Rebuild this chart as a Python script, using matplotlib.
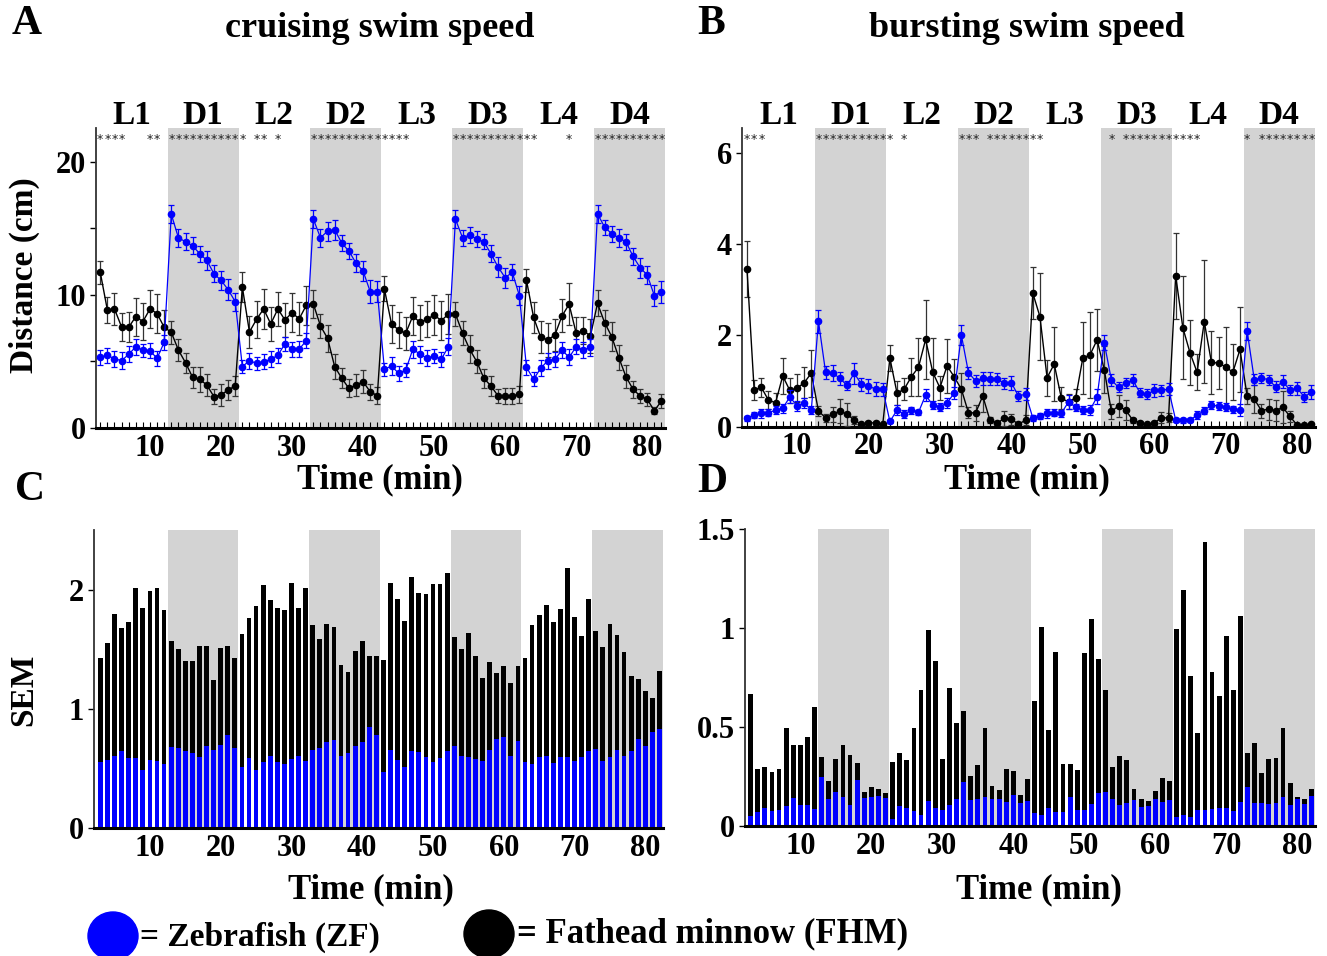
import matplotlib
matplotlib.use('Agg')
import matplotlib.pyplot as plt
import matplotlib.transforms as mtransforms
from matplotlib.patches import Ellipse
import numpy as np

plt.rcParams['font.family'] = 'serif'
plt.rcParams['font.serif'] = ['Liberation Serif', 'DejaVu Serif']
plt.rcParams['font.weight'] = 'bold'

# ---------------- data ----------------
minutes = np.arange(3, 83)  # one sample per minute
phase_labels = ['L1', 'D1', 'L2', 'D2', 'L3', 'D3', 'L4', 'D4']
dark_phases = [(12.5, 22.5), (32.5, 42.5), (52.5, 62.5), (72.5, 82.5)]

# Panel A: cruising swim speed (cm)
zf_cruise = [5.3, 5.47, 5.2, 5.06, 5.54, 6.1, 5.86, 5.8, 5.24, 6.44,
             16.07, 14.3, 14.0, 13.7, 13.1, 12.6, 11.6, 11.1, 10.4, 9.5,
             4.61, 5.06, 4.86, 4.99, 5.16, 5.47, 6.32, 5.92, 5.92, 6.57,
             15.7, 14.3, 14.8, 14.9, 13.9, 13.3, 12.4, 11.8, 10.25, 10.25,
             4.41, 4.66, 4.11, 4.36, 5.92, 5.56, 5.24, 5.41, 5.16, 6.11,
             15.7, 14.3, 14.5, 14.2, 14.0, 13.1, 12.1, 11.3, 11.7, 9.95,
             4.56, 3.66, 4.49, 5.06, 5.16, 5.86, 5.31, 6.11, 5.86, 6.07,
             16.1, 15.1, 14.6, 14.3, 14.0, 12.9, 12.05, 11.5, 9.95, 10.25]
fhm_cruise = [11.7, 8.87, 8.95, 7.6, 7.57, 8.37, 8.0, 8.95, 8.6, 7.57,
              7.19, 5.86, 4.91, 3.81, 3.66, 3.23, 2.36, 2.48, 2.86, 3.16,
              10.6, 7.22, 8.17, 8.95, 7.82, 8.95, 8.12, 8.67, 8.2, 9.22,
              9.32, 7.67, 6.74, 4.61, 3.74, 2.98, 3.23, 3.48, 2.73, 2.43,
              10.45, 7.82, 7.37, 7.12, 8.42, 7.94, 8.17, 8.5, 8.07, 8.55,
              8.57, 7.12, 5.92, 4.99, 3.74, 3.16, 2.41, 2.41, 2.41, 2.53,
              11.1, 8.32, 6.82, 6.62, 6.99, 8.42, 9.3, 7.12, 7.32, 6.92,
              9.37, 7.92, 6.87, 5.29, 3.86, 2.91, 2.41, 2.15, 1.3, 2.03]

# Panel C: SEM of cruising speed (ZF bar, and stacked top ZF+FHM)
zf_sem_cruise = [0.553, 0.575, 0.61, 0.65, 0.59, 0.59, 0.49, 0.57, 0.567, 0.54,
                 0.684, 0.67, 0.648, 0.634, 0.60, 0.69, 0.66, 0.695, 0.78, 0.67,
                 0.51, 0.59, 0.486, 0.556, 0.606, 0.556, 0.54, 0.58, 0.61, 0.56,
                 0.656, 0.675, 0.72, 0.74, 0.61, 0.63, 0.69, 0.72, 0.85, 0.78,
                 0.47, 0.656, 0.57, 0.516, 0.648, 0.64, 0.595, 0.556, 0.587, 0.645,
                 0.687, 0.606, 0.595, 0.58, 0.56, 0.656, 0.746, 0.763, 0.61, 0.734,
                 0.553, 0.536, 0.595, 0.61, 0.545, 0.60, 0.60, 0.56, 0.595, 0.648,
                 0.667, 0.56, 0.60, 0.66, 0.61, 0.65, 0.75, 0.69, 0.81, 0.83]
sem_top_cruise = [1.425, 1.55, 1.80, 1.68, 1.73, 2.01, 1.85, 1.99, 2.01, 1.83,
                  1.57, 1.50, 1.40, 1.40, 1.53, 1.53, 1.24, 1.51, 1.53, 1.43,
                  1.63, 1.76, 1.86, 2.04, 1.91, 1.85, 1.83, 2.06, 1.85, 2.01,
                  1.70, 1.59, 1.71, 1.69, 1.37, 1.31, 1.49, 1.57, 1.44, 1.44,
                  1.41, 2.06, 1.92, 1.74, 2.11, 1.97, 1.96, 2.05, 2.05, 2.14,
                  1.60, 1.50, 1.64, 1.44, 1.26, 1.39, 1.30, 1.36, 1.22, 1.36,
                  1.43, 1.70, 1.79, 1.87, 1.73, 1.84, 2.18, 1.77, 1.61, 1.92,
                  1.65, 1.52, 1.71, 1.62, 1.48, 1.28, 1.25, 1.15, 1.09, 1.32]

# Panel B: bursting swim speed (cm)
zf_burst = [0.18, 0.25, 0.29, 0.30, 0.36, 0.40, 0.65, 0.45, 0.52, 0.36,
            2.31, 1.19, 1.17, 1.06, 0.90, 1.17, 0.93, 0.89, 0.82, 0.82,
            0.11, 0.36, 0.27, 0.36, 0.31, 0.69, 0.47, 0.43, 0.52, 0.73,
            2.01, 1.18, 1.0, 1.06, 1.05, 1.04, 0.95, 0.96, 0.67, 0.71,
            0.19, 0.23, 0.29, 0.30, 0.29, 0.54, 0.42, 0.36, 0.36, 0.65,
            1.84, 1.02, 0.86, 0.95, 1.02, 0.74, 0.71, 0.79, 0.79, 0.82,
            0.14, 0.14, 0.14, 0.25, 0.35, 0.47, 0.45, 0.43, 0.38, 0.36,
            2.10, 1.03, 1.06, 1.03, 0.87, 0.98, 0.80, 0.84, 0.65, 0.75]
fhm_burst = [3.45, 0.80, 0.86, 0.58, 0.52, 1.11, 0.79, 0.84, 0.96, 1.17,
             0.34, 0.19, 0.27, 0.34, 0.27, 0.14, 0.05, 0.08, 0.08, 0.05,
             1.50, 0.73, 0.82, 1.09, 1.30, 1.91, 1.19, 0.85, 1.33, 1.09,
             0.82, 0.30, 0.30, 0.67, 0.14, 0.07, 0.18, 0.16, 0.05, 0.14,
             2.93, 2.41, 1.07, 1.37, 0.62, 0.54, 0.63, 1.50, 1.57, 1.90,
             1.25, 0.33, 0.45, 0.36, 0.14, 0.08, 0.05, 0.08, 0.19, 0.19,
             3.31, 2.17, 1.62, 1.19, 2.30, 1.41, 1.39, 1.31, 1.19, 1.69,
             0.67, 0.60, 0.35, 0.38, 0.35, 0.42, 0.22, 0.03, 0.03, 0.05]

# Panel D: SEM of bursting speed (ZF bar, and stacked top ZF+FHM)
zf_sem_burst = [0.052, 0.07, 0.094, 0.077, 0.082, 0.104, 0.141, 0.108, 0.108, 0.087,
                0.25, 0.138, 0.173, 0.146, 0.106, 0.234, 0.145, 0.15, 0.153, 0.145,
                0.037, 0.104, 0.09, 0.077, 0.057, 0.13, 0.09, 0.082, 0.108, 0.136,
                0.222, 0.133, 0.138, 0.146, 0.138, 0.136, 0.124, 0.158, 0.119, 0.127,
                0.066, 0.057, 0.094, 0.074, 0.074, 0.15, 0.082, 0.082, 0.113, 0.167,
                0.172, 0.136, 0.108, 0.116, 0.133, 0.099, 0.104, 0.136, 0.124, 0.133,
                0.049, 0.057, 0.045, 0.082, 0.082, 0.087, 0.094, 0.094, 0.077, 0.124,
                0.197, 0.12, 0.116, 0.111, 0.12, 0.146, 0.108, 0.138, 0.111, 0.153]
sem_top_burst = [0.668, 0.288, 0.30, 0.274, 0.29, 0.495, 0.41, 0.41, 0.45, 0.60,
                 0.35, 0.23, 0.34, 0.41, 0.36, 0.32, 0.175, 0.20, 0.19, 0.17,
                 0.323, 0.369, 0.335, 0.495, 0.688, 0.99, 0.833, 0.34, 0.70, 0.52,
                 0.584, 0.256, 0.31, 0.498, 0.205, 0.183, 0.29, 0.279, 0.157, 0.237,
                 0.633, 1.005, 0.486, 0.877, 0.313, 0.313, 0.284, 0.875, 1.047, 0.846,
                 0.69, 0.30, 0.355, 0.333, 0.187, 0.138, 0.13, 0.178, 0.245, 0.23,
                 0.995, 1.19, 0.76, 0.473, 1.434, 0.776, 0.658, 0.961, 0.69, 1.062,
                 0.372, 0.42, 0.27, 0.34, 0.343, 0.495, 0.22, 0.146, 0.14, 0.19]

# significance markers (minute of each asterisk)
stars_cruise = [3, 4, 5, 6, 10, 11, 13, 14, 15, 16, 17, 18, 19, 20, 21, 22, 23,
                25, 26, 28, 33, 34, 35, 36, 37, 38, 39, 40, 41, 42, 43, 44, 45, 46,
                53, 54, 55, 56, 57, 58, 59, 60, 61, 62, 63, 64, 69,
                73, 74, 75, 76, 77, 78, 79, 80, 81, 82]
stars_burst = [3, 4, 5, 13, 14, 15, 16, 17, 18, 19, 20, 21, 22, 23, 25,
               33, 34, 35, 37, 38, 39, 40, 41, 42, 43, 44,
               54, 56, 57, 58, 59, 60, 61, 62, 63, 64, 65, 66,
               73, 75, 76, 77, 78, 79, 80, 81, 82]

# ---------------- figure ----------------
W, H = 1327, 956
fig = plt.figure(figsize=(W / 100, H / 100), dpi=100)
BLUE = '#0000ff'
GRAY = '#d3d3d3'
FS = 22


def make_ax(l, r, t, b):
    return fig.add_axes([l / W, 1 - b / H, (r - l) / W, (b - t) / H])


def style(ax, xlim, ylim, yticks, yticklabels, minor_y=None):
    ax.set_xlim(*xlim)
    ax.set_ylim(*ylim)
    for s in ['top', 'right']:
        ax.spines[s].set_visible(False)
    ax.spines['bottom'].set_linewidth(2.2)
    ax.spines['left'].set_linewidth(1.3)
    ax.spines['left'].set_color('#333333')
    for a, b in dark_phases:
        ax.axvspan(a, b, color=GRAY, lw=0, zorder=0)
    ax.set_xticks(range(10, 90, 10))
    ax.set_xticks(minutes, minor=True)
    ax.set_yticks(yticks)
    ax.set_yticklabels(yticklabels)
    if minor_y is not None:
        ax.set_yticks(minor_y, minor=True)
    ax.tick_params(axis='x', which='both', direction='in', length=4, width=0.8,
                   labelsize=FS, pad=4)
    ax.tick_params(axis='y', which='both', direction='out', length=4, width=1.0,
                   labelsize=FS, pad=3)
    for lab in ax.get_xticklabels() + ax.get_yticklabels():
        lab.set_fontweight('bold')


def phase_header(ax, stars):
    trans = mtransforms.blended_transform_factory(ax.transData, ax.transAxes)
    for i, lab in enumerate(phase_labels):
        ax.text(7.5 + 10 * i, 1.012, lab, transform=trans, ha='center', va='baseline',
                fontsize=24, fontweight='bold', clip_on=False)
    for m in stars:
        ax.text(m, 0.962, '*', transform=trans, ha='center', va='center',
                fontsize=9, fontweight='normal', family='DejaVu Sans', color='#222222')


def lines(ax, zf, fhm, zf_sem, top):
    fhm_sem = np.array(top) - np.array(zf_sem)
    ax.errorbar(minutes, fhm, yerr=fhm_sem, fmt='-o', color='black', ms=4.5,
                lw=1.0, elinewidth=0.9, ecolor='#333333', capsize=2.4, capthick=0.9,
                zorder=3)
    ax.errorbar(minutes, zf, yerr=zf_sem, fmt='-o', color=BLUE, ms=4.5,
                lw=0.9, elinewidth=0.9, capsize=2.4, capthick=0.9, zorder=4)


def bars(ax, zf_sem, top):
    fhm_sem = np.array(top) - np.array(zf_sem)
    ax.bar(minutes, zf_sem, width=0.68, color=BLUE, lw=0, zorder=2)
    ax.bar(minutes, fhm_sem, bottom=zf_sem, width=0.68, color='black', lw=0, zorder=2)


# Panel A
axA = make_ax(96, 665, 128, 428)
style(axA, (2.4, 82.5), (0, 22.55), [0, 10, 20], ['0', '10', '20'], minor_y=[5, 15])
lines(axA, zf_cruise, fhm_cruise, zf_sem_cruise, sem_top_cruise)
phase_header(axA, stars_cruise)

# Panel B
axB = make_ax(742, 1315, 128, 426.5)
style(axB, (2.3, 82.5), (0, 6.55), [0, 2, 4, 6], ['0', '2', '4', '6'])
lines(axB, zf_burst, fhm_burst, zf_sem_burst, sem_top_burst)
phase_header(axB, stars_burst)

# Panel C
axC = make_ax(94, 663, 530, 828.3)
style(axC, (2.1, 82.5), (0, 2.5), [0, 1, 2], ['0', '1', '2'])
bars(axC, zf_sem_cruise, sem_top_cruise)

# Panel D
axD = make_ax(745, 1315, 529, 826.3)
style(axD, (2.2, 82.5), (0, 1.5), [0, 0.5, 1, 1.5], ['0', '0.5', '1', '1.5'])
bars(axD, zf_sem_burst, sem_top_burst)

# overlay in pixel coordinates for texts and legend
ov = fig.add_axes([0, 0, 1, 1], zorder=10)
ov.set_xlim(0, W)
ov.set_ylim(H, 0)
ov.axis('off')
ov.patch.set_alpha(0)

kw = dict(fontweight='bold', ha='center', va='center')
ov.text(27, 24, 'A', fontsize=30, **kw)
ov.text(711, 24, 'B', fontsize=30, **kw)
ov.text(30, 490, 'C', fontsize=30, **kw)
ov.text(712, 482, 'D', fontsize=30, **kw)
ov.text(380, 28, 'cruising swim speed', fontsize=26, **kw)
ov.text(1027, 28, 'bursting swim speed', fontsize=26, **kw)
ov.text(380, 480, 'Time (min)', fontsize=25, **kw)
ov.text(1027, 480, 'Time (min)', fontsize=25, **kw)
ov.text(371, 890, 'Time (min)', fontsize=25, **kw)
ov.text(1039, 890, 'Time (min)', fontsize=25, **kw)
ov.text(24, 275, 'Distance (cm)', fontsize=24, rotation=90, **kw)
ov.text(24, 690, 'SEM', fontsize=24, rotation=90, **kw)

ov.add_patch(Ellipse((113, 936), 50, 48, color=BLUE, clip_on=False))
ov.add_patch(Ellipse((489, 934), 50, 48, color='black', clip_on=False))
ov.text(140, 937, '= Zebrafish (ZF)', fontsize=24, fontweight='bold', ha='left', va='center')
ov.text(517, 934, '= Fathead minnow (FHM)', fontsize=25, fontweight='bold', ha='left', va='center')

fig.savefig('out.png', dpi=100)
